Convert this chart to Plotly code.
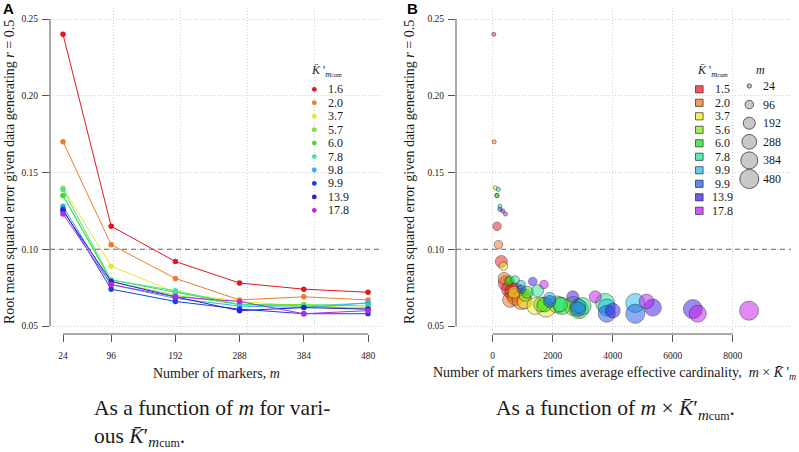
import numpy as np
import plotly.graph_objects as go

W, H = 799, 452

# ---------------- data ----------------
m_values = [24, 96, 192, 288, 384, 480]
m_labels = ["24", "96", "192", "288", "384", "480"]

k_cum_a = [1.6, 2.0, 3.7, 5.7, 6.0, 7.8, 9.8, 9.9, 13.9, 17.8]
k_cum_b = [1.5, 2.0, 3.7, 5.6, 6.0, 7.8, 9.9, 9.9, 13.9, 17.8]

rmse_k1 = [0.240, 0.115, 0.092, 0.078, 0.074, 0.072]
rmse_k2 = [0.170, 0.103, 0.081, 0.067, 0.069, 0.067]
rmse_k3 = [0.140, 0.089, 0.072, 0.066, 0.063, 0.062]
rmse_k4 = [0.135, 0.079, 0.070, 0.064, 0.064, 0.063]
rmse_k5 = [0.135, 0.080, 0.072, 0.064, 0.063, 0.061]
rmse_k6 = [0.139, 0.080, 0.073, 0.064, 0.063, 0.065]
rmse_k7 = [0.128, 0.077, 0.068, 0.063, 0.062, 0.065]
rmse_k8 = [0.126, 0.074, 0.066, 0.061, 0.058, 0.058]
rmse_k9 = [0.125, 0.079, 0.069, 0.060, 0.062, 0.061]
rmse_k10 = [0.123, 0.077, 0.069, 0.066, 0.058, 0.060]
rmse_series = [rmse_k1, rmse_k2, rmse_k3, rmse_k4, rmse_k5,
               rmse_k6, rmse_k7, rmse_k8, rmse_k9, rmse_k10]

y_ticks = [0.05, 0.10, 0.15, 0.20, 0.25]
y_tick_labels = ["0.05", "0.10", "0.15", "0.20", "0.25"]
x_grid_a = [100, 200, 300, 400, 500]
x_ticks_b = [0, 2000, 4000, 6000, 8000]
x_tick_labels_b = ["0", "2000", "4000", "6000", "8000"]
threshold = 0.10

# ---------------- styles ----------------
colors_a = ["#E5161C", "#EE7D2B", "#E6E62A", "#7DE22E", "#3CDF3A",
            "#3DE6A3", "#2BB6EE", "#1D3FE6", "#2B1FD8", "#B22BE4"]
rgb_b = [(235, 25, 25), (238, 115, 30), (235, 235, 30), (135, 230, 30), (30, 220, 30),
         (30, 230, 145), (30, 190, 240), (30, 90, 235), (60, 25, 230), (195, 25, 235)]
alpha_b = 0.72
fill_b = ["rgba(%d,%d,%d,%.2f)" % (r, g, b, alpha_b) for r, g, b in rgb_b]

SERIF = "Liberation Serif"
SANS = "Liberation Sans"
TXT = "#1a1a1a"
AXC = "#555555"
GRIDC = "#cfcfcf"


def px(x):
    return x / W


def py(y):
    return 1 - y / H


def bubble_d(m):
    return 0.87 * np.sqrt(m)


# plot areas in pixels
A_L, A_R = 50, 382
B_L, B_R = 456, 791
P_T, P_B = 8, 334

# axis ranges (linear pixel mappings)
ax_x0, ax_s = 63.0, (368.0 - 63.0) / (480 - 24)
xa_range = [24 + (A_L - ax_x0) / ax_s, 24 + (A_R - ax_x0) / ax_s]
bx_x0, bx_s = 492.7, 0.03
xb_range = [(B_L - bx_x0) / bx_s, (B_R - bx_x0) / bx_s]
y_s = (326.0 - 19.0) / 0.20
y_range = [0.05 - (P_B - 326.0) / y_s, 0.25 + (19.0 - P_T) / y_s]

fig = go.Figure()

# Panel A lines
for k, ys, c in zip(k_cum_a, rmse_series, colors_a):
    fig.add_trace(go.Scatter(
        x=m_values, y=ys, mode="lines+markers", xaxis="x", yaxis="y",
        line=dict(color=c, width=1), marker=dict(color=c, size=5.5),
        showlegend=False, name=str(k), cliponaxis=False))

# Panel B bubbles
for k, ys, f in zip(k_cum_b, rmse_series, fill_b):
    fig.add_trace(go.Scatter(
        x=[m * k for m in m_values], y=ys, mode="markers", xaxis="x2", yaxis="y2",
        marker=dict(color=f, size=[bubble_d(m) for m in m_values], sizemode="diameter",
                    line=dict(color="rgba(25,25,25,0.75)", width=0.8)),
        showlegend=False, name=str(k)))

ydom = [py(P_B), py(P_T)]
tickfont = dict(family=SERIF, size=9.5, color=TXT)
common_y = dict(range=y_range, tickmode="array", tickvals=y_ticks, ticktext=y_tick_labels,
                ticks="outside", ticklen=7, tickcolor=AXC, tickwidth=1,
                showgrid=True, gridcolor=GRIDC, griddash="1px,2px", gridwidth=1,
                zeroline=False, showline=False, tickfont=tickfont, ticklabelstandoff=2,
                fixedrange=True)

fig.update_layout(
    width=W, height=H, margin=dict(l=0, r=0, t=0, b=0),
    paper_bgcolor="white", plot_bgcolor="white",
    font=dict(family=SERIF, color=TXT),
    xaxis=dict(domain=[px(A_L), px(A_R)], range=xa_range, anchor="y",
               tickmode="array", tickvals=m_values, ticktext=m_labels,
               ticks="outside", ticklen=7, tickcolor=AXC, tickwidth=1,
               showgrid=False, zeroline=False, showline=False,
               minor=dict(tickmode="array", tickvals=x_grid_a, showgrid=True, gridcolor=GRIDC,
                          griddash="1px,2px", gridwidth=1, ticks=""),
               tickfont=tickfont, ticklabelstandoff=6, fixedrange=True),
    yaxis=dict(domain=ydom, anchor="x", **common_y),
    xaxis2=dict(domain=[px(B_L), px(B_R)], range=xb_range, anchor="y2",
                tickmode="array", tickvals=x_ticks_b, ticktext=x_tick_labels_b,
                ticks="outside", ticklen=7, tickcolor=AXC, tickwidth=1,
                showgrid=True, gridcolor=GRIDC, griddash="1px,2px", gridwidth=1,
                zeroline=False, showline=False, tickfont=tickfont, ticklabelstandoff=6,
                fixedrange=True),
    yaxis2=dict(domain=ydom, anchor="x2", **common_y),
)

shapes = []
annotations = []

# R-style axis lines (first to last tick only) and the reference line
for xa, ya, xt in (("x", "y", m_values), ("x2", "y2", x_ticks_b)):
    shapes.append(dict(type="line", xref=xa, yref="paper", x0=xt[0], x1=xt[-1],
                       y0=ydom[0], y1=ydom[0], line=dict(color=AXC, width=1)))
    shapes.append(dict(type="line", xref=xa + " domain", yref=ya, x0=0, x1=0,
                       y0=y_ticks[0], y1=y_ticks[-1], line=dict(color=AXC, width=1)))
    shapes.append(dict(type="line", xref=xa + " domain", yref=ya, x0=0, x1=1,
                       y0=threshold, y1=threshold,
                       line=dict(color="#666666", width=1, dash="5px,4px")))

# axis titles
ytitle = "Root mean squared error given data generating <i>r</i> = 0.5"
for xc in (10, 410):
    annotations.append(dict(xref="paper", yref="paper", x=px(xc), y=py(172), text=ytitle,
                            textangle=-90, showarrow=False, xanchor="center", yanchor="middle",
                            font=dict(family=SERIF, size=14, color=TXT)))
annotations.append(dict(xref="paper", yref="paper", x=px(216), y=py(373),
                        text="Number of markers, <i>m</i>", showarrow=False,
                        xanchor="center", yanchor="middle",
                        font=dict(family=SERIF, size=14, color=TXT)))
annotations.append(dict(xref="paper", yref="paper", x=px(431), y=py(373),
                        text="Number of markers times average effective cardinality,  "
                             "<i>m</i> × <i>K\u0304</i> '<sub><i>m</i></sub>",
                        showarrow=False, xanchor="left", yanchor="middle",
                        font=dict(family=SERIF, size=14, color=TXT)))

# panel letters
for xc, lab in ((8, "A"), (412, "B")):
    annotations.append(dict(xref="paper", yref="paper", x=px(xc), y=py(9), text="<b>%s</b>" % lab,
                            showarrow=False, xanchor="center", yanchor="middle",
                            font=dict(family=SANS, size=15, color="#000")))

ktitle = "<i>K\u0304</i> '<sub><i>m</i><span style='font-size:6px'>cum</span></sub>"

# legend A
annotations.append(dict(xref="paper", yref="paper", x=px(326), y=py(71), text=ktitle,
                        showarrow=False, xanchor="center", yanchor="middle",
                        font=dict(family=SERIF, size=12, color=TXT)))
row0, row_h = 89.3, 13.45
for i, (k, c) in enumerate(zip(k_cum_a, colors_a)):
    yy = row0 + i * row_h
    shapes.append(dict(type="circle", xref="paper", yref="paper", xsizemode="pixel",
                       ysizemode="pixel", xanchor=px(314.3), yanchor=py(yy),
                       x0=-2.4, x1=2.4, y0=-2.4, y1=2.4, fillcolor=c, line=dict(width=0)))
    annotations.append(dict(xref="paper", yref="paper", x=px(325.5), y=py(yy), text="%.1f" % k,
                            showarrow=False, xanchor="left", yanchor="middle",
                            font=dict(family=SERIF, size=12, color=TXT)))

# legend B (colour)
annotations.append(dict(xref="paper", yref="paper", x=px(712), y=py(71), text=ktitle,
                        showarrow=False, xanchor="center", yanchor="middle",
                        font=dict(family=SERIF, size=12, color=TXT)))
for i, (k, f) in enumerate(zip(k_cum_b, fill_b)):
    yy = row0 + i * 13.5
    shapes.append(dict(type="rect", xref="paper", yref="paper", xsizemode="pixel",
                       ysizemode="pixel", xanchor=px(699.3), yanchor=py(yy),
                       x0=-3.8, x1=3.8, y0=-3.6, y1=3.6, fillcolor=f,
                       line=dict(color="rgba(25,25,25,0.8)", width=0.8)))
    annotations.append(dict(xref="paper", yref="paper", x=px(722.5), y=py(yy), text="%.1f" % k,
                            showarrow=False, xanchor="center", yanchor="middle",
                            font=dict(family=SERIF, size=12, color=TXT)))

# legend B (size)
annotations.append(dict(xref="paper", yref="paper", x=px(760), y=py(70), text="<i>m</i>",
                        showarrow=False, xanchor="center", yanchor="middle",
                        font=dict(family=SERIF, size=12, color=TXT)))
for i, (m, lab) in enumerate(zip(m_values, m_labels)):
    yy = 86 + i * 18.6
    r = bubble_d(m) / 2
    shapes.append(dict(type="circle", xref="paper", yref="paper", xsizemode="pixel",
                       ysizemode="pixel", xanchor=px(749.3), yanchor=py(yy),
                       x0=-r, x1=r, y0=-r, y1=r, fillcolor="#c8c8c8",
                       line=dict(color="#3a3a3a", width=0.8)))
    annotations.append(dict(xref="paper", yref="paper", x=px(761), y=py(yy), text=lab,
                            showarrow=False, xanchor="left", yanchor="middle",
                            font=dict(family=SERIF, size=12, color=TXT)))

# captions
sub_cum = "<sub><i>m</i><span style='font-size:12px'>cum</span></sub>"
annotations.append(dict(xref="paper", yref="paper", x=px(92), y=py(394),
                        text="As a function of <i>m</i> for vari-<br>ous <i>K\u0304</i>\u2032" + sub_cum + ".",
                        showarrow=False, xanchor="left", yanchor="top", align="left",
                        font=dict(family=SERIF, size=21.5, color=TXT)))
annotations.append(dict(xref="paper", yref="paper", x=px(615), y=py(394),
                        text="As a function of <i>m</i> × <i>K\u0304</i>\u2032" + sub_cum + ".",
                        showarrow=False, xanchor="center", yanchor="top",
                        font=dict(family=SERIF, size=21.5, color=TXT)))

fig.update_layout(shapes=shapes, annotations=annotations)
fig.write_html("out.html", config={"displayModeBar": False},
               post_script="document.body.style.margin='0';document.body.style.overflow='hidden';")
